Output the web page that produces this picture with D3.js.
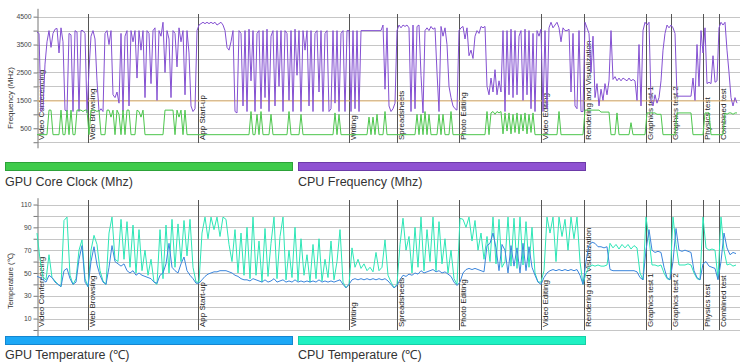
<!DOCTYPE html>
<html><head><meta charset="utf-8">
<script src="https://cdn.jsdelivr.net/npm/d3@7"></script>
<style>body{margin:0;background:#fff}svg{display:block}text{font-family:"Liberation Sans",Arial,sans-serif}</style>
</head><body><svg id="c" width="740" height="364"></svg>
<script>
// ---- data ----
const sections = ["Video Conferencing","Web Browsing","App Start-up","Writing","Spreadsheets","Photo Editing","Video Editing","Rendering and Visualization","Graphics test 1","Graphics test 2","Physics test","Combined test"];
const sectionStart = [0,51,161,312,360,422,504,547,609,634,666,682]; // time units
const freqStep = 2;
const cpuFreq = [
3950,3900,1100,1200,2800,3600,4000,3400,3900,4050,4080,3200,4100,3600,1150,1100,3900,3850,1100,4000,3950,1100,4000,4000,3900,1050,
2600,3800,4000,3700,2200,1100,1200,1100,3900,4000,3500,4000,1700,1600,1800,1400,3900,1100,3800,4000,1300,4000,3600,4000,2300,4000,3300,4000,1600,4000,3900,2100,4000,4100,1500,4000,3800,4300,2500,4000,3700,1600,4000,3900,2700,4100,3600,4000,1700,4000,3200,1300,1100,1200,4000,
4200,4250,4300,4250,4300,4250,4300,4250,4300,4200,4250,4300,4200,4000,3400,3300,3600,4000,1100,1050,4000,3900,1300,4000,1100,4050,2200,4000,1100,3900,4000,1200,4000,1600,4050,1100,3800,4000,1300,4000,2000,4000,1100,4000,3900,1500,4000,1100,4050,2400,4000,1100,4000,3300,4000,1300,4000,1100,3900,4000,1800,4000,1100,3900,4000,1100,1200,4000,1400,4000,1100,3900,4000,1100,4000,4000,
1100,4000,1200,4000,1100,4000,4000,4000,4000,4000,4000,4000,4000,4000,4000,4000,4200,1900,4100,1300,1100,1200,1400,4000,
4200,4100,4200,4150,4200,4100,1100,4200,1200,4150,4200,2400,1050,4000,4100,4000,4150,4050,4100,2500,1100,4150,3800,4100,3500,2000,1600,1300,1200,1150,4000,
4100,4150,3700,4100,3100,3300,3000,3800,4000,3900,4150,4100,4150,2000,1700,2300,1800,2600,1700,2200,1800,4000,1100,4000,1700,4050,1600,4000,1700,3800,4000,1500,4050,1700,4000,1200,3900,1100,4000,3800,4050,
1100,4000,1200,4100,4300,4100,4200,4300,4100,3600,4100,4000,4000,4050,1800,3900,1300,1200,4000,1100,1100,
4300,4100,3900,2500,3800,1600,2100,1300,1900,1500,2100,1700,2200,4000,2250,2350,2200,2300,2200,2300,2250,2200,2300,2200,2250,2200,1500,3500,1300,4000,4300,
4200,4300,1500,1300,1700,1400,1600,2200,3300,3900,4200,4100,4200,
4100,3900,1650,1650,1650,1650,1650,1650,1650,1650,2300,1500,3500,2000,4000,3200,
4100,2100,2150,2100,3100,2150,2200,4100,
4300,4200,4300,3300,2500,1600,1300,1600,1400];
const gpuClock = [
270,270,270,270,270,270,1150,1150,270,270,270,270,1150,270,270,1150,270,1150,270,270,1150,1150,1150,1100,1150,1150,
270,1150,1150,1150,1100,1150,270,270,270,1150,1150,900,1150,270,1150,1000,270,1150,270,1150,1150,270,270,270,1150,1100,900,1150,270,270,270,270,270,270,270,270,270,270,1150,1150,1150,1150,1150,270,1150,900,1150,270,1150,270,270,270,270,270,270,
270,270,270,270,270,270,270,270,270,270,270,270,270,270,270,270,270,270,270,270,270,270,270,270,270,270,1100,270,270,1000,270,1100,270,270,270,270,1000,270,270,270,270,270,270,270,270,1100,270,270,270,270,270,1000,270,270,270,270,270,270,270,270,270,270,270,270,270,270,270,270,1050,270,1000,270,270,270,270,270,
270,270,270,270,270,270,270,270,270,900,270,900,270,1000,270,270,270,1100,270,270,270,270,270,270,
270,270,270,270,270,270,270,270,270,1000,270,1000,270,1100,270,1000,270,270,270,270,1000,270,1000,270,270,270,1100,270,270,270,270,
270,270,270,270,270,270,270,270,270,270,270,270,270,1100,270,1050,1100,1000,1100,1050,1100,300,1050,400,1050,300,1000,350,1050,300,1000,400,1050,300,1000,350,1050,270,270,270,270,
270,270,270,270,270,270,270,270,1100,270,270,270,270,270,270,270,270,270,270,270,270,
1150,1150,1150,1150,1150,1150,1150,1150,1080,1080,1080,1080,1080,270,270,270,1050,270,270,270,270,270,270,700,270,270,270,270,270,270,270,
1050,1050,1050,1050,1050,1000,1000,1000,270,270,270,270,270,
270,270,1050,1050,1050,1050,1050,1050,1050,1050,270,270,270,270,270,270,
1050,1050,1050,270,270,270,270,270,
270,270,1050,1000,1050,1050,1000,1050,1050];
const memClockStep = 700;
const gpuMemClock = [1480,1480];
const tempStep = 3;
const cpuTemp = [
85,62,46,44,66,46,43,40,38,96,99,48,40,45,70,79,45,
38,70,83,75,52,43,40,85,99,62,60,97,62,95,55,92,50,88,52,70,48,62,42,40,88,45,92,50,97,55,93,60,96,65,97,55,42,
42,85,99,80,99,88,99,82,99,97,75,60,88,50,85,48,90,45,99,48,78,42,89,47,76,99,45,82,99,44,70,46,90,43,80,48,66,42,75,45,80,43,62,46,78,44,60,88,42,37,
40,72,55,62,54,58,52,55,51,68,52,55,79,48,42,37,
40,75,98,70,82,50,90,55,99,52,88,60,99,52,95,58,80,50,70,45,40,
98,97,90,99,78,96,70,85,62,82,60,99,58,97,55,60,99,56,98,54,99,57,95,55,90,50,42,
42,52,99,85,99,60,99,82,97,70,99,80,99,60,40,
50,55,57,56,57,56,56,57,76,72,75,71,75,72,75,71,74,72,50,44,
99,80,57,57,56,57,50,45,44,
99,75,57,57,57,58,57,50,45,44,
99,72,70,71,70,45,
99,70,57,58,56,57];
const gpuTemp = [
47,46,44,42,48,46,42,40,38,52,54,45,40,42,62,74,42,
38,60,73,57,48,42,40,55,74,60,58,56,58,52,50,52,48,50,48,47,46,45,42,41,48,50,58,76,55,52,50,58,64,52,48,45,41,
41,44,47,49,50,51,51,52,52,52,51,50,48,47,45,44,44,43,45,44,43,42,44,42,43,45,42,43,44,42,43,42,44,42,43,42,43,42,43,42,44,42,43,42,43,42,43,44,40,37,
40,44,45,44,45,44,45,44,45,44,45,44,45,43,40,37,
39,44,48,47,49,48,50,49,52,50,51,52,53,51,52,50,51,49,47,42,39,
42,50,53,54,53,54,53,52,51,74,76,85,72,52,75,70,50,74,56,72,50,76,52,73,55,48,42,
40,46,50,52,53,52,53,52,53,52,53,52,53,48,40,
60,74,77,76,73,73,72,73,53,52,52,52,52,52,52,52,52,51,46,44,
70,88,70,68,69,68,55,46,44,
60,89,70,69,70,69,68,52,46,44,
58,60,56,55,54,44,
60,85,72,66,68,67];
const freqGrid = [0,500,1000,1500,2000,2500,3000,3500,4000,4500];
const freqTickLabels = [500,1500,2500,3500,4500];
const tempGrid = [0,10,20,30,40,50,60,70,80,90,100,110];
const tempTickLabels = [10,30,50,70,90,110];
const legendTop = [{name:"GPU Core Clock (Mhz)",color:"#3fcb4b",stroke:"#2ca238"},{name:"CPU Frequency (Mhz)",color:"#8f52d2",stroke:"#6c3aa8"}];
const legendBottom = [{name:"GPU Temperature (\u2103)",color:"#1ca8f6",stroke:"#1486d0"},{name:"CPU Temperature (\u2103)",color:"#1ff1c3",stroke:"#17d0a6"}];

// ---- drawing ----
const svg = d3.select("#c");
const x = d3.scaleLinear().domain([0,703]).range([37,740]);
const yF = d3.scaleLinear().domain([-200,4800]).range([147.8,8.3]);
const yT = d3.scaleLinear().domain([-5,116]).range([335.7,197.7]);
const pts = (arr, step) => arr.map((v,i)=>[i*step, v]);

function panel(y, grid, labels, secTop, secBottom, labelBase, title, titleY, titleSize){
  const g = svg.append("g");
  g.append("g").selectAll("line").data(grid).join("line")
    .attr("x1",37).attr("x2",740)
    .attr("y1",d=>Math.round(y(d))+0.5).attr("y2",d=>Math.round(y(d))+0.5)
    .attr("stroke","#c6c6c6").attr("stroke-width",1);
  const ax = d3.axisLeft(y).tickValues(grid).tickSize(4).tickSizeOuter(0).tickPadding(2)
    .tickFormat(d=>labels.includes(d)?d:"");
  const a = g.append("g").attr("transform","translate(37.5,0)").call(ax);
  a.select(".domain").attr("stroke","#777");
  a.selectAll(".tick line").attr("stroke","#777");
  a.selectAll(".tick text").attr("font-size",6.8).attr("fill","#444").attr("font-family","Liberation Sans, Arial, sans-serif");
  g.append("text").attr("transform",`translate(13,${titleY}) rotate(-90)`).attr("text-anchor","middle")
    .attr("font-size",titleSize).attr("fill","#333").text(title);
  g.append("g").selectAll("line").data(sectionStart.slice(1)).join("line")
    .attr("x1",d=>Math.round(x(d))+0.5).attr("x2",d=>Math.round(x(d))+0.5)
    .attr("y1",secTop).attr("y2",secBottom).attr("stroke","#555").attr("stroke-width",1);
  g.append("g").selectAll("text").data(sections).join("text")
    .attr("transform",(d,i)=>`translate(${x(sectionStart[i])+6.5},${labelBase}) rotate(-90)`)
    .attr("font-size",8).attr("fill","#222").text(d=>d);
  return g;
}

panel(yF, freqGrid, freqTickLabels, 14, 143, 140, "Frequency (MHz)", 98, 8);
panel(yT, tempGrid, tempTickLabels, 200, 330, 327, "Temperature (\u2103)", 281, 7.5);

const lineF = d3.line().x(d=>x(d[0])).y(d=>yF(d[1]));
const lineT = d3.line().x(d=>x(d[0])).y(d=>yT(d[1]));
svg.append("path").attr("d",lineF(pts(gpuMemClock,memClockStep))).attr("fill","none").attr("stroke","#e6b56e").attr("stroke-width",1);
svg.append("path").attr("d",lineF(pts(cpuFreq,freqStep))).attr("fill","none").attr("stroke","#8450d2").attr("stroke-width",1);
svg.append("path").attr("d",lineF(pts(gpuClock,freqStep))).attr("fill","none").attr("stroke","#4cc64c").attr("stroke-width",1);
svg.append("path").attr("d",lineT(pts(cpuTemp,tempStep))).attr("fill","none").attr("stroke","#2de6b6").attr("stroke-width",1);
svg.append("path").attr("d",lineT(pts(gpuTemp,tempStep))).attr("fill","none").attr("stroke","#3b86dc").attr("stroke-width",1);

function legend(items, barY, textY){
  const g = svg.append("g");
  items.forEach((it,i)=>{
    const lx = i===0 ? 5 : 298;
    g.append("rect").attr("x",lx+0.5).attr("y",barY+0.5).attr("width",287).attr("height",8)
      .attr("fill",it.color).attr("stroke",it.stroke).attr("stroke-width",1);
    g.append("text").attr("x",lx).attr("y",textY).attr("font-size",12.5).attr("fill","#333").text(it.name);
  });
}
legend(legendTop, 162, 186);
legend(legendBottom, 336, 359);
</script></body></html>
